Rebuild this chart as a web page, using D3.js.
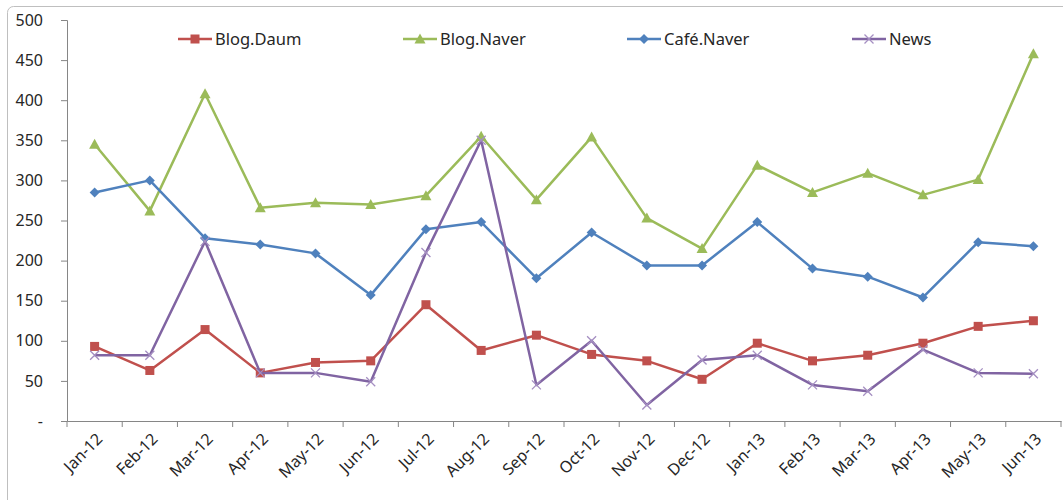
<!DOCTYPE html>
<html>
<head>
  <meta charset="utf-8">
  <title>Blog / Café / News monthly counts</title>
  <style>
    body { margin: 0; background: #fff; }
    svg text { font-family: "Noto Sans", "Open Sans", sans-serif; fill: #262626; }
    .axis path, .axis line { stroke: #868686; }
    .axis text { font-size: 16px; }
    .legend text { font-size: 16.5px; }
  </style>
</head>
<body>
  <svg id="canvas"></svg>
  <script src="https://cdn.jsdelivr.net/npm/d3@7"></script>
  <script>
    const months = ["Jan-12", "Feb-12", "Mar-12", "Apr-12", "May-12", "Jun-12", "Jul-12", "Aug-12", "Sep-12",
      "Oct-12", "Nov-12", "Dec-12", "Jan-13", "Feb-13", "Mar-13", "Apr-13", "May-13", "Jun-13"];

    const blogDaum = [93, 63, 114, 60, 73, 75, 145, 88, 107, 83, 75, 52, 97, 75, 82, 97, 118, 125];
    const blogNaver = [345, 262, 408, 266, 272, 270, 281, 355, 276, 354, 253, 215, 319, 285, 309, 282, 301, 458];
    const cafeNaver = [285, 300, 228, 220, 209, 157, 239, 248, 178, 235, 194, 194, 248, 190, 180, 154, 223, 218];
    const news = [82, 82, 224, 60, 60, 49, 210, 350, 45, 100, 20, 76, 82, 45, 37, 89, 60, 59];

    const yTicks = [0, 50, 100, 150, 200, 250, 300, 350, 400, 450, 500];

    const series = [
      { name: "Blog.Daum", values: blogDaum, color: "#C0504D", marker: "square" },
      { name: "Blog.Naver", values: blogNaver, color: "#9BBB59", marker: "triangle" },
      { name: "Café.Naver", values: cafeNaver, color: "#4F81BD", marker: "diamond" },
      { name: "News", values: news, color: "#8064A2", marker: "x" }
    ];

    const W = 1063, H = 500;
    const plot = { left: 67, right: 1061, top: 20, bottom: 421 };

    const svg = d3.select("#canvas").attr("width", W).attr("height", H);

    // outer chart frame
    svg.append("rect")
      .attr("x", 7.5).attr("y", 6.5)
      .attr("width", W + 10).attr("height", H + 10)
      .attr("rx", 6)
      .attr("fill", "none")
      .attr("stroke", "#bfbfbf");

    const x = d3.scaleBand().domain(months).range([plot.left, plot.right]);
    const y = d3.scaleLinear().domain([0, 500]).range([plot.bottom, plot.top]);

    const yAxis = svg.append("g")
      .attr("class", "axis")
      .attr("transform", "translate(" + plot.left + ",0)")
      .call(d3.axisLeft(y).tickValues(yTicks).tickSizeOuter(0).tickSize(6).tickPadding(18)
        .tickFormat(v => v === 0 ? "-" : v));
    yAxis.select(".domain").attr("stroke", "#868686");

    const xAxis = svg.append("g")
      .attr("class", "axis")
      .attr("transform", "translate(0," + plot.bottom + ")")
      .call(d3.axisBottom(x).tickSize(0).tickSizeOuter(0).tickFormat(""));

    // tick marks at band edges (between categories)
    xAxis.selectAll(".edge")
      .data(months.map(m => x(m)).concat([plot.right]))
      .enter().append("line")
      .attr("class", "edge")
      .attr("x1", d => d).attr("x2", d => d)
      .attr("y1", 0).attr("y2", 6)
      .attr("stroke", "#868686");

    xAxis.selectAll(".xlabel")
      .data(months)
      .enter().append("text")
      .attr("class", "xlabel")
      .attr("text-anchor", "end")
      .attr("transform", m => "translate(" + (x(m) + x.bandwidth() / 2 + 5) + ",15)rotate(-45)")
      .attr("dy", "0.35em")
      .style("font-size", "16px")
      .text(m => m);

    const cx = i => x(months[i]) + x.bandwidth() / 2;

    const line = d3.line().x((_, i) => cx(i)).y(v => y(v));

    const drawMarker = (g, kind, color) => {
      if (kind === "square") {
        g.append("rect").attr("x", -4.5).attr("y", -4.5).attr("width", 9).attr("height", 9).attr("fill", color);
      } else if (kind === "triangle") {
        g.append("path").attr("d", "M0,-5.5L5.5,4.5L-5.5,4.5Z").attr("fill", color);
      } else if (kind === "diamond") {
        g.append("path").attr("d", "M0,-5L5,0L0,5L-5,0Z").attr("fill", color);
      } else {
        g.append("path").attr("d", "M-4.5,-4.5L4.5,4.5M-4.5,4.5L4.5,-4.5")
          .attr("stroke", "#a58fc2").attr("stroke-width", 1.3).attr("fill", "none");
      }
    };

    series.forEach(s => {
      svg.append("path")
        .datum(s.values)
        .attr("fill", "none")
        .attr("stroke", s.color)
        .attr("stroke-width", 2.5)
        .attr("stroke-linejoin", "round")
        .attr("d", line);

      svg.append("g").selectAll("g")
        .data(s.values)
        .enter().append("g")
        .attr("transform", (v, i) => "translate(" + cx(i) + "," + y(v) + ")")
        .each(function () { drawMarker(d3.select(this), s.marker, s.color); });
    });

    // legend
    const legendX = [178, 403, 627, 852];
    const legend = svg.append("g").attr("class", "legend");
    series.forEach((s, i) => {
      const g = legend.append("g").attr("transform", "translate(" + legendX[i] + ",39)");
      g.append("line").attr("x1", 0).attr("x2", 34).attr("stroke", s.color).attr("stroke-width", 2.5);
      const m = g.append("g").attr("transform", "translate(17,0)");
      drawMarker(m, s.marker, s.color);
      g.append("text").attr("x", 37).attr("dy", "0.35em").text(s.name);
    });
  </script>
</body>
</html>
